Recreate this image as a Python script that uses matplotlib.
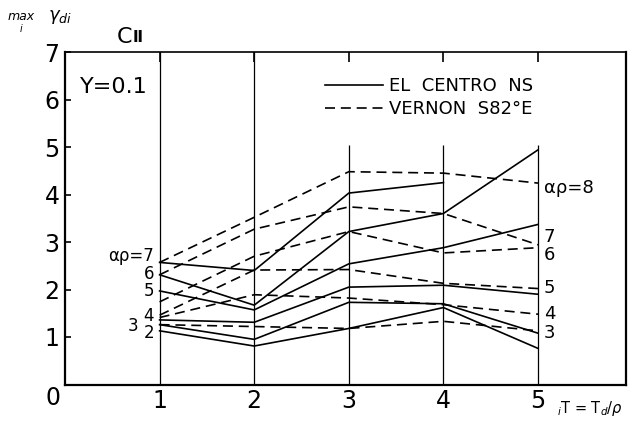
import numpy as np
import matplotlib
matplotlib.use("Agg")
import matplotlib.pyplot as plt
from matplotlib.lines import Line2D

# period ratio  iT = Td / rho
T = [1, 2, 3, 4, 5]

# EL CENTRO NS (solid), keyed by alpha*rho
ec_7 = [2.57, 2.40, 4.03, 4.25]
ec_6 = [2.31, 1.67, 3.22, 3.60, 4.94]
ec_5 = [1.97, 1.57, 2.54, 2.88, 3.37]
ec_4 = [1.36, 1.31, 2.05, 2.09, 1.90]
ec_3 = [1.26, 0.95, 1.73, 1.70, 1.08]
ec_2 = [1.13, 0.81, 1.18, 1.62, 0.76]

# VERNON S82E (dashed), keyed by alpha*rho
vn_8 = [2.57, 3.52, 4.48, 4.45, 4.24]
vn_7 = [2.31, 3.27, 3.74, 3.60, 2.94]
vn_6 = [1.74, 2.70, 3.22, 2.77, 2.88]
vn_5 = [1.46, 2.41, 2.42, 2.13, 2.02]
vn_4 = [1.41, 1.89, 1.82, 1.68, 1.48]
vn_3 = [1.26, 1.22, 1.18, 1.33, 1.13]

left_labels = ["αρ=7", "6", "5", "4", "3", "2"]
left_label_y = [2.70, 2.33, 1.97, 1.45, 1.24, 1.08]
left_label_x = [0.94, 0.94, 0.94, 0.94, 0.77, 0.94]
right_labels = ["αρ=8", "7", "6", "5", "4", "3"]
right_label_y = [4.14, 3.11, 2.73, 2.03, 1.48, 1.08]

W, H = 633, 421


def fx(px):
    return px / W


def fy(py):
    return 1 - py / H


fig = plt.figure(figsize=(W / 100, H / 100), dpi=100)
ax = fig.add_axes([fx(65), fy(384.5), (626 - 65) / W, (384.5 - 52) / H])
ax.set_xlim(0, 5.93)
ax.set_ylim(0, 7)

# vertical guide lines at each period
ax.vlines([1, 2], 0, 7, color="black", lw=0.9)
ax.vlines([3, 4, 5], 0, 5.05, color="black", lw=0.9)

solid_kw = dict(color="black", lw=1.2)
dash_kw = dict(color="black", lw=1.2, linestyle=(0, (6, 3.5)))

for ys in [ec_7, ec_6, ec_5, ec_4, ec_3, ec_2]:
    ax.plot(T[:len(ys)], ys, **solid_kw)
for ys in [vn_8, vn_7, vn_6, vn_5, vn_4, vn_3]:
    ax.plot(T[:len(ys)], ys, **dash_kw)

for lab, x, y in zip(left_labels, left_label_x, left_label_y):
    ax.text(x, y, lab, ha="right", va="center", fontsize=12)
for lab, y in zip(right_labels, right_label_y):
    ax.text(5.06, y, lab, ha="left", va="center", fontsize=13)

ax.set_xticks([1, 2, 3, 4, 5])
ax.set_xticklabels(["1", "2", "3", "4", "5"], fontsize=17)
ax.set_yticks([1, 2, 3, 4, 5, 6, 7])
ax.set_yticklabels(["1", "2", "3", "4", "5", "6", "7"], fontsize=17)
ax.tick_params(axis="y", direction="in", length=4, width=1.2, pad=4)
ax.tick_params(axis="x", direction="in", length=7, width=1.2, pad=3,
               top=True, bottom=False)
for side in ["left", "bottom", "right"]:
    ax.spines[side].set_linewidth(1.6)
ax.spines["top"].set_linewidth(1.2)

# origin label shared by both axes
fig.text(fx(53), fy(398), "0", ha="center", va="center", fontsize=17)

# axis titles
fig.text(fx(8), fy(17), "max", ha="left", va="center", fontsize=9,
         style="italic")
fig.text(fx(20), fy(29), "i", ha="left", va="center", fontsize=7,
         style="italic")
fig.text(fx(48), fy(17), r"$\gamma_{di}$", ha="left", va="center", fontsize=13)
fig.text(fx(557), fy(408), r"${}_{i}$T = T$_{d}$/$\rho$", ha="left",
         va="center", fontsize=10.5)
fig.text(fx(117), fy(37), "C", ha="left", va="center", fontsize=16)
fig.text(fx(133), fy(38), "Ⅱ", ha="left", va="center", fontsize=11,
         fontweight="bold")
ax.text(0.16, 6.26, "Y=0.1", ha="left", va="center", fontsize=16)

handles = [Line2D([], [], **solid_kw), Line2D([], [], **dash_kw)]
ax.legend(handles, ["EL  CENTRO  NS", "VERNON  S82°E"], loc="upper left",
          bbox_to_anchor=((325 - 65) / 561, (384.5 - 77) / 332.5),
          frameon=False, fontsize=13, handlelength=3.2, handletextpad=0.35,
          labelspacing=0.3, borderpad=0, borderaxespad=0)

fig.savefig("out.png", dpi=100, facecolor="white")
